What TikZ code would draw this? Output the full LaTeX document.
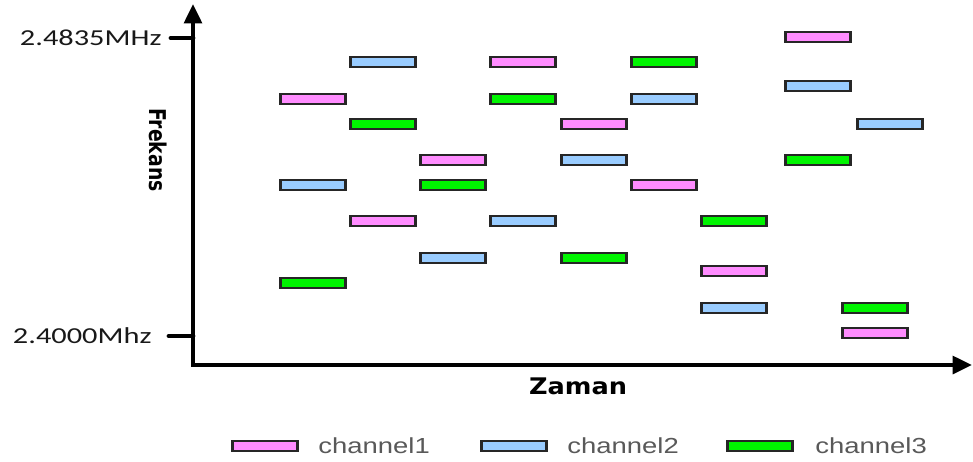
\documentclass[tikz,border=0pt]{standalone}
\usepackage{fontspec}
\setmainfont{Carlito}
\newfontfamily\axisfont{DejaVu Sans}
\newfontfamily\legendfont{Liberation Sans}
\usetikzlibrary{arrows.meta}

\definecolor{chpink}{HTML}{FF8CFF}
\definecolor{chblue}{HTML}{99CCFF}
\definecolor{chgreen}{HTML}{00F500}

\begin{document}
\begin{tikzpicture}[
    x=0.02cm, y=-0.02cm,
    chbar/.style={rectangle, draw=black!85, line width=1.2pt, minimum width=1.3cm, minimum height=0.19cm, inner sep=0pt},
    ch1/.style={chbar, fill=chpink},
    ch2/.style={chbar, fill=chblue},
    ch3/.style={chbar, fill=chgreen},
    axis/.style={line width=2.3pt, {Triangle[length=11pt, width=10pt]}-{Triangle[length=11pt, width=10pt]}},
    axtick/.style={line width=2.8pt, line cap=round},
    ticklabel/.style={anchor=east, inner sep=0pt, text=black!90, font=\fontsize{13}{15}\selectfont, xscale=1.33},
    axlabel/.style={inner sep=0pt, font=\axisfont\bfseries\fontsize{13}{15}\selectfont},
    legendtext/.style={anchor=west, inner sep=0pt, text=black!65, font=\legendfont\fontsize{12.4}{14}\selectfont, xscale=1.26}
]
\useasboundingbox (0,0) rectangle (973,461);

% Axes
\coordinate (origin) at (193,365);
\coordinate (ytop) at (193,4);
\coordinate (xend) at (972,365);
\draw[axis] (ytop) -- (origin) -- (xend);

% Frequency ticks
\node[ticklabel] (fmax) at (162,38) {2.4835MHz};
\node[ticklabel] (fmin) at (152,336) {2.4000Mhz};
\coordinate (tmax) at (171,38);
\coordinate (tmin) at (169,336);
\draw[axtick] (tmax) -- (origin |- tmax);
\draw[axtick] (tmin) -- (origin |- tmin);

% Axis labels
\node[axlabel, font=\axisfont\bfseries\fontsize{10.7}{13}\selectfont, xscale=1.23, rotate=-90] (freq) at (158,150) {Frekans};
\node[axlabel, xscale=1.12] (time) at (578,386) {Zaman};

% Hops of each channel
\foreach \x/\y [count=\i] in {313/99, 383/221, 453/160, 523/62, 594/124, 664/185, 734/271, 818/37, 875/333}
    \node[ch1] (one-\i) at (\x,\y) {};
\foreach \x/\y [count=\i] in {313/185, 383/62, 453/258, 523/221, 594/160, 664/99, 734/308, 818/86, 890/124}
    \node[ch2] (two-\i) at (\x,\y) {};
\foreach \x/\y [count=\i] in {313/283, 383/124, 453/185, 523/99, 594/258, 664/62, 734/221, 818/160, 875/308}
    \node[ch3] (three-\i) at (\x,\y) {};

% Legend
\node[ch1] (key1) at (265,446) {};
\node[legendtext] (name1) at (318,446) {channel1};
\node[ch2] (key2) at (514,446) {};
\node[legendtext] (name2) at (567,446) {channel2};
\node[ch3] (key3) at (760,446) {};
\node[legendtext] (name3) at (815,446) {channel3};
\end{tikzpicture}
\end{document}
